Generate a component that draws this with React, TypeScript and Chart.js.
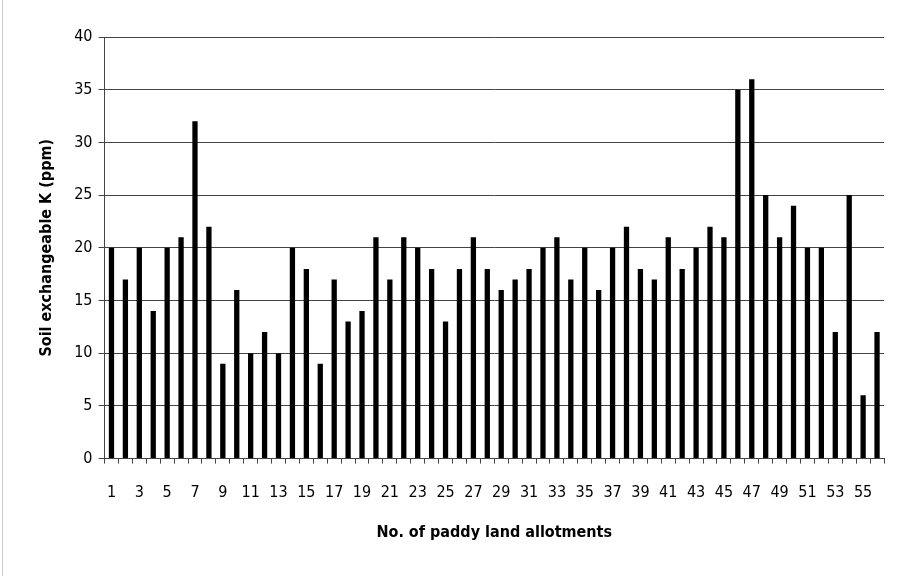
import React, { useEffect, useRef } from "react";
import { Chart, registerables } from "chart.js";

Chart.register(...registerables);

const categories: string[] = Array.from({ length: 56 }, (_, i) => String(i + 1));
const potassium: number[] = [
  20, 17, 20, 14, 20, 21, 32, 22, 9, 16,
  10, 12, 10, 20, 18, 9, 17, 13, 14, 21,
  17, 21, 20, 18, 13, 18, 21, 18, 16, 17,
  18, 20, 21, 17, 20, 16, 20, 22, 18, 17,
  21, 18, 20, 22, 21, 35, 36, 25, 21, 24,
  20, 20, 12, 25, 6, 12,
];
const yTitle = "Soil exchangeable K (ppm)";
const xTitle = "No. of paddy land allotments";

const FONT = "'DejaVu Sans Condensed', 'DejaVu Sans', sans-serif";

export default function App() {
  const ref = useRef<HTMLCanvasElement | null>(null);
  useEffect(() => {
    if (!ref.current) return;
    const chart = new Chart(ref.current, {
      type: "bar",
      data: {
        labels: categories,
        datasets: [
          {
            data: potassium,
            backgroundColor: "#000",
            borderWidth: 0,
            barPercentage: 0.38,
            categoryPercentage: 1,
          },
        ],
      },
      options: {
        animation: false,
        responsive: false,
        maintainAspectRatio: false,
        layout: { padding: { left: 33, right: 15, top: 37, bottom: 30 } },
        plugins: { legend: { display: false }, tooltip: { enabled: false } },
        scales: {
          x: {
            grid: { display: true, drawOnChartArea: false, drawTicks: true, tickLength: 5, color: "#444", offset: true },
            border: { display: true, color: "#444" },
            ticks: {
              autoSkip: false,
              maxRotation: 0,
              minRotation: 0,
              color: "#000",
              font: { family: FONT, size: 16 },
              padding: 20,
              callback: (_v: any, i: number) => (i % 2 === 0 ? categories[i] : ""),
            },
            title: { display: true, text: xTitle, color: "#000", font: { family: FONT, size: 16, weight: "bold" }, padding: { top: 0 } },
          },
          y: {
            min: 0,
            max: 40,
            grid: { color: "#444", lineWidth: 1, drawTicks: true, tickLength: 6 },
            border: { display: true, color: "#444" },
            ticks: { stepSize: 5, color: "#000", font: { family: FONT, size: 16 }, padding: 6 },
            title: { display: true, text: yTitle, color: "#000", font: { family: FONT, size: 16, weight: "bold" }, padding: { bottom: 12 } },
          },
        },
      },
    });
    return () => chart.destroy();
  }, []);
  return (
    <div style={{ position: "absolute", left: 0, top: 0, width: 899, height: 576, background: "#fff" }}>
      <canvas ref={ref} width={899} height={576} style={{ width: 899, height: 576, display: "block" }} />
      <div style={{ position: "absolute", left: 2, top: 0, width: 0, height: 576, borderLeft: "1px solid #ccc" }} />
    </div>
  );
}
